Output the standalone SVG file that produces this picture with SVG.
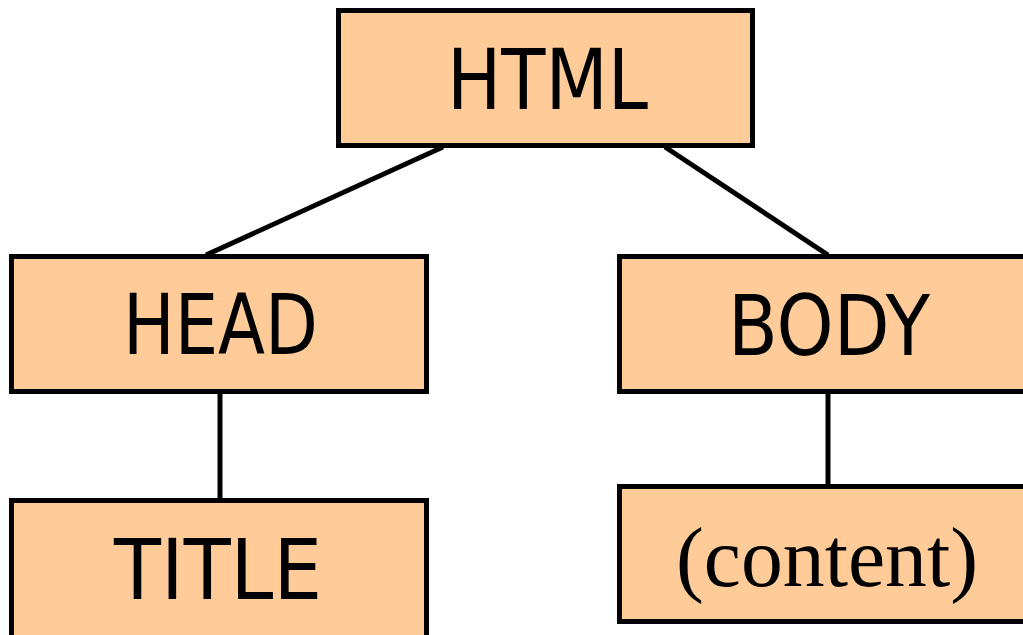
<svg xmlns="http://www.w3.org/2000/svg" width="1023" height="635" viewBox="0 0 1023 635">
  <style>
    .box { fill: #FFCC99; stroke: #000; stroke-width: 5; }
    .lbl { font-family: "DejaVu Sans", "Liberation Sans", sans-serif; font-size: 84px; fill: #000; }
    .lbl-serif { font-family: "Liberation Serif", "Times New Roman", serif; font-size: 84px; fill: #000; }
    .edge { stroke: #000; stroke-width: 5; fill: none; }
  </style>
  <rect width="1023" height="635" fill="#fff"/>

  <!-- tree edges -->
  <g id="connectors">
    <line class="edge" x1="443" y1="147" x2="206" y2="255"/>
    <line class="edge" x1="665" y1="147" x2="828" y2="255"/>
    <line class="edge" x1="220" y1="393" x2="220" y2="499"/>
    <line class="edge" x1="828" y1="393" x2="828" y2="485"/>
  </g>

  <g id="node-html">
    <rect class="box" x="338.5" y="10.5" width="414" height="135"/>
    <text class="lbl" x="447" y="109" textLength="201" lengthAdjust="spacingAndGlyphs">HTML</text>
  </g>

  <g id="node-head">
    <rect class="box" x="11.5" y="256.5" width="415" height="135"/>
    <text class="lbl" x="123" y="354" textLength="195" lengthAdjust="spacingAndGlyphs">HEAD</text>
  </g>

  <g id="node-body">
    <rect class="box" x="619.5" y="256.5" width="420" height="135"/>
    <text class="lbl" x="728" y="355" textLength="202" lengthAdjust="spacingAndGlyphs">BODY</text>
  </g>

  <g id="node-title">
    <rect class="box" x="11.5" y="500.5" width="415" height="150"/>
    <text class="lbl" x="114" y="599" textLength="208" lengthAdjust="spacingAndGlyphs">TITLE</text>
  </g>

  <g id="node-content">
    <rect class="box" x="619.5" y="486.5" width="420" height="135"/>
    <text class="lbl-serif" x="676" y="586" textLength="302" lengthAdjust="spacingAndGlyphs">(content)</text>
  </g>
</svg>
